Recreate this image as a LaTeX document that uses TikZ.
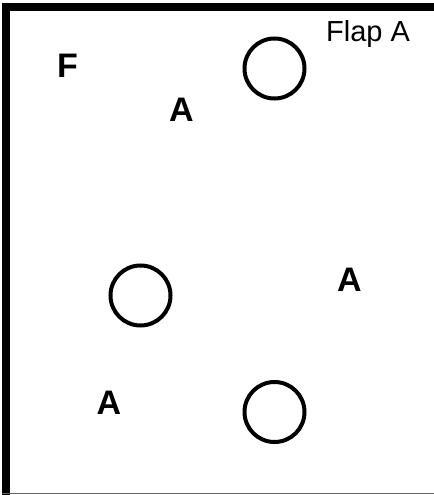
\documentclass[tikz,border=0pt]{standalone}
\usepackage{fontspec}
\setmainfont{Liberation Sans}
\begin{document}
\begin{tikzpicture}[x=1bp,y=-1bp,
  hole/.style={circle,draw=black,line width=4bp,minimum size=60bp,inner sep=0pt},
  biglbl/.style={font=\fontsize{34bp}{36bp}\selectfont\bfseries,inner sep=0pt},
  flaplbl/.style={font=\fontsize{29bp}{32bp}\selectfont,inner sep=0pt}]
\useasboundingbox (0,0) rectangle (434,495);
\fill[white] (-5,-5) rectangle (440,500);
% border
\draw[line width=8bp] (6,500) -- (6,7) -- (440,7);
\draw[line width=1.2bp,black!60] (2,493.5) -- (440,493.5);
% holes
\node[hole] (h1) at (274.5,68.5) {};
\node[hole] (h2) at (140.5,295.5) {};
\node[hole] (h3) at (274.5,412) {};
% labels
\node[biglbl] (f) at (67.5,66) {F};
\node[biglbl] (a1) at (181.5,109.5) {A};
\node[biglbl] (a2) at (349.5,279.5) {A};
\node[biglbl] (a3) at (109,402.5) {A};
\node[flaplbl,anchor=base west] (flap) at (326,42) {Flap A};
\end{tikzpicture}
\end{document}
